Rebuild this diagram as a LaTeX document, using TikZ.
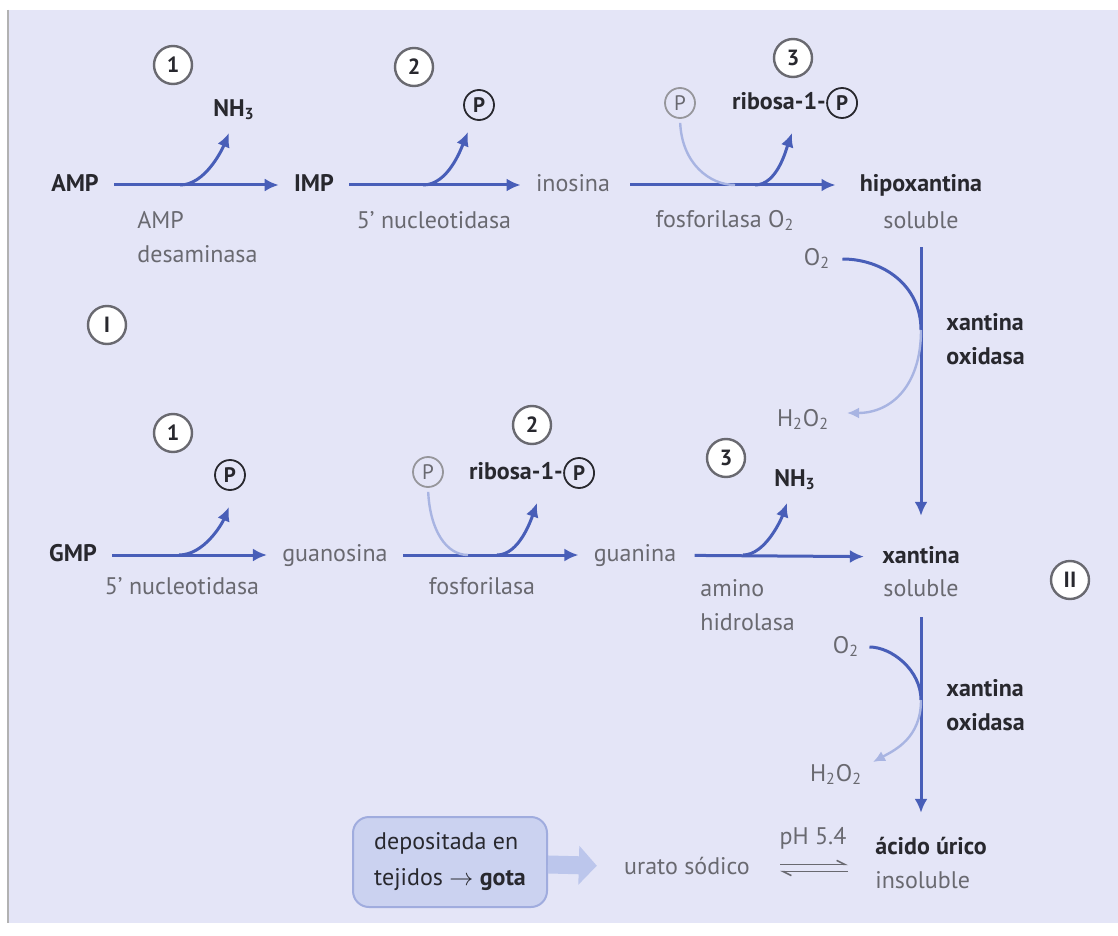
\documentclass[tikz,border=0pt]{standalone}
\usepackage{fontspec}
\setmainfont{PT Sans}
\usetikzlibrary{arrows.meta,positioning}
\definecolor{panel}{RGB}{228,229,247}
\definecolor{flowblue}{RGB}{72,94,184}
\definecolor{paleblue}{RGB}{168,180,226}
\definecolor{darktext}{RGB}{40,40,46}
\definecolor{graytext}{RGB}{105,105,112}
\definecolor{boxfill}{RGB}{203,210,240}
\definecolor{boxline}{RGB}{160,172,222}
\definecolor{fatblue}{RGB}{188,198,236}
\begin{document}
\begin{tikzpicture}[x=0.5pt,y=-0.5pt,
	every node/.style={font=\fontsize{12}{17}\selectfont, inner sep=1pt},
	row/.style={text height=1.7ex, text depth=.45ex},
	mol/.style={row, font=\fontsize{12}{17}\selectfont\bfseries, text=darktext},
	met/.style={row, text=graytext},
	twoline/.style={align=left, anchor=west, text height=, text depth=},
	num/.style={circle, draw=graytext, fill=white, line width=1.2pt, minimum size=19pt,
		inner sep=0pt, font=\fontsize{11}{11}\selectfont\bfseries, text=darktext},
	pc/.style={circle, draw=darktext, line width=0.9pt, minimum size=15pt, inner sep=0pt,
		font=\fontsize{10.5}{10.5}\selectfont\bfseries, text=darktext},
	gpc/.style={pc, draw=graytext!70, text=graytext, font=\fontsize{10.5}{10.5}\selectfont},
	flow/.style={draw=flowblue, line width=1.5pt, shorten <=6.5pt, shorten >=6.5pt,
		-{Latex[length=7pt,width=6.5pt]}},
	branch/.style={draw=flowblue, line width=1.5pt, -{Latex[length=7pt,width=6.5pt]}},
	pale/.style={draw=paleblue, line width=1.2pt},
	harp/.style={draw=graytext, line width=0.8pt, -{Straight Barb[left,length=4pt,width=4pt]}},
	fat/.style={draw=fatblue, line width=9pt, shorten >=12.5pt, -{Triangle[length=9pt,width=19pt]}},
	deposit/.style={rounded corners=8pt, fill=boxfill, draw=boxline, line width=1pt,
		minimum width=97pt, minimum height=45pt, align=left, text=darktext, inner sep=0pt}
	]
	\useasboundingbox (0,0) rectangle (1118,936);
	\fill[white] (0,0) rectangle (1118,936);
	\fill[panel] (8,10) rectangle (1118,923);
	\draw[gray!60, line width=0.6pt] (8,10) -- (8,923);

	% ruta I: AMP
	\node[mol] (amp) at (75,185) {AMP};
	\node[mol] (imp) at (314,185) {IMP};
	\node[met] (ino) at (573,185) {inosina};
	\node[mol] (hipo) at (921,185) {hipoxantina};
	\node[met] (sol1) at (921,222) {soluble};
	\node[met, twoline] (desam) at (135,237) {AMP\\desaminasa};
	\node[met] (nuc1) at (434,222) {5' nucleotidasa};
	\node[met] (fosf1) at (725,221) {fosforilasa O\textsubscript{2}};
	\node[num] (n11) at (173,65) {1};
	\node[num] (n12) at (414,67) {2};
	\node[num] (n13) at (793,58) {3};
	\node[mol] (nh3a) at (234,110) {NH\textsubscript{3}};
	\node[pc] (p12) at (479,105) {P};
	\node[gpc] (gp13) at (680,103) {P};
	\node[mol] (rib13) at (779,103) {ribosa-1-};
	\node[pc, right=-1pt of rib13] (p13) {P};

	% ruta I: GMP
	\node[mol] (gmp) at (73,555) {GMP};
	\node[met] (guo) at (335,555) {guanosina};
	\node[met] (gua) at (635,555) {guanina};
	\node[mol] (xan) at (921,557) {xantina};
	\node[met] (sol2) at (921,590) {soluble};
	\node[met] (nuc2) at (182,588) {5' nucleotidasa};
	\node[met] (fosf2) at (482,588) {fosforilasa};
	\node[met, twoline] (amhid) at (698,605) {amino\\hidrolasa};
	\node[num] (n21) at (173,433) {1};
	\node[num] (n22) at (532,425) {2};
	\node[num] (n23) at (726,458) {3};
	\node[pc] (p21) at (230,475) {P};
	\node[gpc] (gp22) at (428,472) {P};
	\node[mol] (rib22) at (516,473) {ribosa-1-};
	\node[pc, right=-1pt of rib22] (p22) {P};
	\node[mol] (nh3b) at (795,480) {NH\textsubscript{3}};

	\node[num] (r1) at (107,325) {I};
	\node[num] (r2) at (1070,580) {II};

	% ruta II
	\node[met] (o2a) at (817,259) {O\textsubscript{2}};
	\node[met] (h2o2a) at (803,420) {H\textsubscript{2}O\textsubscript{2}};
	\node[mol, twoline] (xo1) at (944,339) {xantina\\oxidasa};
	\node[met] (o2b) at (846,647) {O\textsubscript{2}};
	\node[met] (h2o2b) at (836,775) {H\textsubscript{2}O\textsubscript{2}};
	\node[mol, twoline] (xo2) at (944,705) {xantina\\oxidasa};
	\node[mol, anchor=west] (aci) at (873,848) {ácido úrico};
	\node[met, anchor=west] (ins) at (873,882) {insoluble};
	\node[met] (urato) at (687,868) {urato sódico};
	\node[met] (ph) at (813,838) {pH 5.4};
	\node[deposit] (dep) at (450,862) {depositada en\\[1pt]tejidos $\rightarrow$ \textbf{gota}};

	\foreach \n/\x/\y in {s11/180/185, t11/229/133, s12/423/185, t12/468/132,
		m13/735/185, s13/755/185, t13/792/133,
		s21/179/555, t21/229/507, m22/468/555, s22/497/555, t22/537/503,
		s23/743/555, t23/787/503,
		j1/921/330, t1/847/413, j2/921/700, t2/873/762,
		eqa/780/868, eqb/848/868}
		\coordinate (\n) at (\x,\y);

	% flechas principales
	\draw[flow] (amp) -- (imp);
	\draw[flow] (imp) -- (ino);
	\draw[flow, shorten <=9pt, shorten >=11pt] (ino) -- (hipo);
	\draw[flow] (gmp) -- (guo);
	\draw[flow] (guo) -- (gua);
	\draw[flow, shorten <=8pt, shorten >=8pt] (gua) -- (xan);
	\draw[flow, shorten <=6pt, shorten >=14pt] (sol1) -- (sol1 |- xan.north);
	\draw[flow, shorten <=7pt, shorten >=11pt] (sol2) -- (sol2 |- aci.north);

	% ramas
	\draw[branch] (s11) .. controls +(25,0) and +(-7,17) .. (t11);
	\draw[branch] (s12) .. controls +(25,0) and +(-7,17) .. (t12);
	\draw[pale, shorten <=2pt] (gp13.south) .. controls +(2,45) and +(-25,0) .. (m13);
	\draw[branch] (s13) .. controls +(22,0) and +(-6,17) .. (t13);
	\draw[branch] (s21) .. controls +(25,0) and +(-7,17) .. (t21);
	\draw[pale, shorten <=2pt] (gp22.south) .. controls +(2,42) and +(-22,0) .. (m22);
	\draw[branch] (s22) .. controls +(22,0) and +(-6,17) .. (t22);
	\draw[branch] (s23) .. controls +(22,0) and +(-6,17) .. (t23);

	% O2 / H2O2
	\draw[branch, -, shorten <=5pt] (o2a.east) .. controls +(50,0) and +(0,-45) .. (j1);
	\draw[pale, -{Latex[length=6pt,width=5.5pt]}] (j1) .. controls +(0,55) and +(45,0) .. (t1);
	\draw[branch, -, shorten <=4pt] (o2b.east) .. controls +(30,0) and +(0,-30) .. (j2);
	\draw[pale, -{Latex[length=6pt,width=5.5pt]}] (j2) .. controls +(0,38) and +(22,-12) .. (t2);

	% equilibrio y deposito
	\draw[harp] ([yshift=1.8pt]eqa) -- ([yshift=1.8pt]eqb);
	\draw[harp] ([yshift=-1.8pt]eqb) -- ([yshift=-1.8pt]eqa);
	\draw[fat] (dep) -- (urato);
\end{tikzpicture}
\end{document}
